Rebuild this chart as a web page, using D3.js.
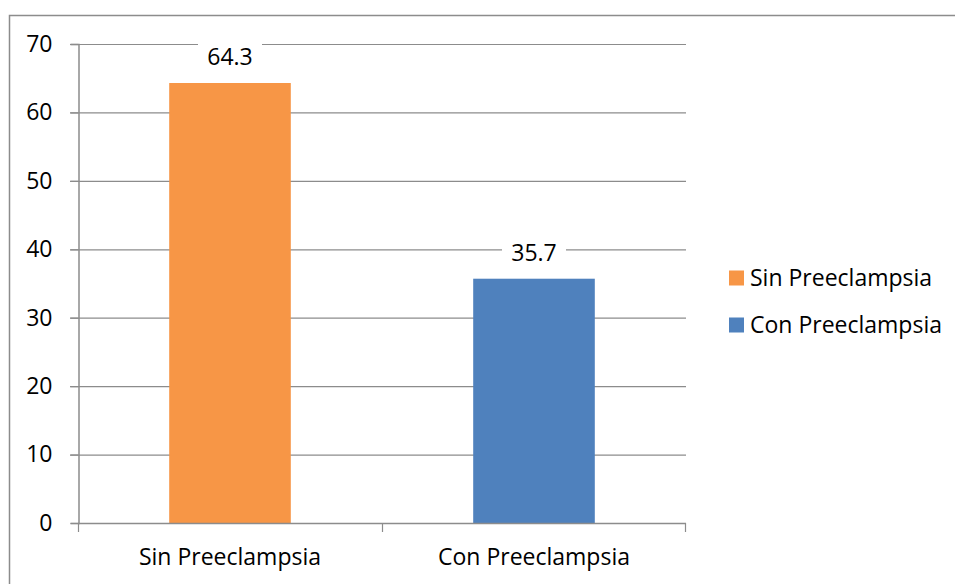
<!DOCTYPE html>
<html>
<head>
<meta charset="utf-8">
<script src="https://cdn.jsdelivr.net/npm/d3@7"></script>
<style>
  html, body { margin: 0; padding: 0; background: #fff; }
  svg { display: block; }
  text { font-family: "Open Sans", "Noto Sans", sans-serif; fill: #000; }
</style>
</head>
<body>
<svg id="chart" width="955" height="584"></svg>
<script>
// Data
const categories = ["Sin Preeclampsia", "Con Preeclampsia"];
const values = [64.3, 35.7];
const colors = ["#F79646", "#4F81BD"];
const yTicks = [0, 10, 20, 30, 40, 50, 60, 70];

const svg = d3.select("#chart");
const W = 955, H = 584;
const margin = { left: 78, top: 44, right: 955 - 686, bottom: 584 - 523 };
const fontSize = 23;

// Outer chart border (top and left edges visible)
svg.append("path")
  .attr("d", `M9.5,${H} V15.5 H${W}`)
  .attr("fill", "none")
  .attr("stroke", "#8c8c8c")
  .attr("stroke-width", 1.5);

const x = d3.scaleBand().domain(categories)
  .range([margin.left, W - margin.right])
  .paddingInner(0).paddingOuter(0);
const y = d3.scaleLinear().domain([0, 70]).range([H - margin.bottom, margin.top]);
const barW = x.bandwidth() * 0.4;

// Gridlines
svg.append("g").selectAll("line").data(yTicks.filter(d => d > 0)).join("line")
  .attr("x1", margin.left - 8).attr("x2", W - margin.right)
  .attr("y1", d => y(d) + 0.5).attr("y2", d => y(d) + 0.5)
  .attr("stroke", "#8c8c8c").attr("stroke-width", 1.2);

// Bars
svg.append("g").selectAll("rect").data(values).join("rect")
  .attr("x", (d, i) => x(categories[i]) + (x.bandwidth() - barW) / 2)
  .attr("width", barW)
  .attr("y", d => y(d))
  .attr("height", d => y(0) - y(d))
  .attr("fill", (d, i) => colors[i]);

// Y axis
const yAxis = svg.append("g")
  .attr("transform", `translate(${margin.left + 0.5},0)`)
  .call(d3.axisLeft(y).tickValues(yTicks).tickSize(8).tickPadding(18).tickFormat(d3.format("d")));
yAxis.select(".domain").attr("stroke", "#8c8c8c").attr("stroke-width", 1.5);
yAxis.selectAll(".tick line").attr("stroke", "#8c8c8c").attr("stroke-width", 1.2);
yAxis.selectAll(".tick text").attr("font-size", fontSize).attr("font-family", "'Open Sans', sans-serif").attr("fill", "#000");

// X axis
const xAxis = svg.append("g")
  .attr("transform", `translate(0,${y(0) + 0.5})`)
  .call(d3.axisBottom(x).tickSize(0).tickPadding(25));
xAxis.select(".domain").remove();
xAxis.selectAll(".tick text").attr("font-size", fontSize).attr("font-family", "'Open Sans', sans-serif").attr("fill", "#000");
svg.append("line")
  .attr("x1", margin.left).attr("x2", W - margin.right)
  .attr("y1", y(0) + 0.5).attr("y2", y(0) + 0.5)
  .attr("stroke", "#8c8c8c").attr("stroke-width", 1.5);
svg.append("g").selectAll("line").data([0, 1, 2]).join("line")
  .attr("x1", i => margin.left + 0.5 + i * x.step() - (i === 2 ? 1 : 0))
  .attr("x2", i => margin.left + 0.5 + i * x.step() - (i === 2 ? 1 : 0))
  .attr("y1", y(0)).attr("y2", y(0) + 9)
  .attr("stroke", "#8c8c8c").attr("stroke-width", 1.2);

// Value labels with white background
const labels = svg.append("g").selectAll("g").data(values).join("g")
  .attr("transform", (d, i) => `translate(${x(categories[i]) + x.bandwidth() / 2},${y(d) - 26})`);
labels.append("rect")
  .attr("x", -32).attr("y", -15).attr("width", 64).attr("height", 30)
  .attr("fill", "#fff");
labels.append("text")
  .attr("text-anchor", "middle").attr("dy", "0.35em")
  .attr("font-size", fontSize)
  .text(d => d3.format(".1f")(d));

// Legend
const legend = svg.append("g").selectAll("g").data(categories).join("g")
  .attr("transform", (d, i) => `translate(729,${278 + i * 47})`);
legend.append("rect")
  .attr("x", 0).attr("y", -7.5).attr("width", 15).attr("height", 15)
  .attr("fill", (d, i) => colors[i]);
legend.append("text")
  .attr("x", 21).attr("dy", "0.35em")
  .attr("font-size", fontSize)
  .text(d => d);
</script>
</body>
</html>
